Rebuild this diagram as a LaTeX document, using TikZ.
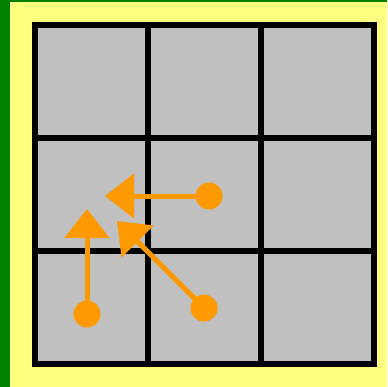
\documentclass[tikz,border=0pt]{standalone}
\usetikzlibrary{arrows.meta,positioning}
\definecolor{leaf}{RGB}{0,128,0}
\definecolor{butter}{RGB}{255,255,128}
\definecolor{slate}{RGB}{192,192,192}
\definecolor{tangerine}{RGB}{255,153,0}
\tikzset{
  cell/.style={draw=black,fill=slate,line width=6pt,minimum size=113pt,
    inner sep=0pt,outer sep=0pt},
  dot/.style={circle,fill=tangerine,minimum size=27pt,inner sep=0pt},
  move/.style={draw=tangerine,line width=5pt,-{Triangle[length=29pt,width=44pt]}},
}

\begin{document}
\begin{tikzpicture}[x=1pt,y=-1pt]
    \useasboundingbox (0,0) rectangle (387,387);
    \fill[butter] (0,0) rectangle (387,387);
    \fill[leaf] (0,0) rectangle (10,387);
    \fill[leaf] (0,0) rectangle (387,2);
    % board
    \foreach \r in {0,1,2}
      \foreach \c in {0,1,2}
        \node[cell] (c\r\c) at ({91.5+113*\c},{81.5+113*\r}) {};
    % pieces and their moves
    \node[dot] (p1) at (209,196) {};
    \node[dot] (p2) at (87,314) {};
    \node[dot] (p3) at (204,308) {};
    \coordinate (t1) at (105,196);
    \coordinate (t2) at (87,209);
    \coordinate (t3) at (117,221);
    \draw[move] (p1.center) -- (t1);
    \draw[move] (p2.center) -- (t2);
    \draw[move] (p3.center) -- (t3);
  \end{tikzpicture}
\end{document}
